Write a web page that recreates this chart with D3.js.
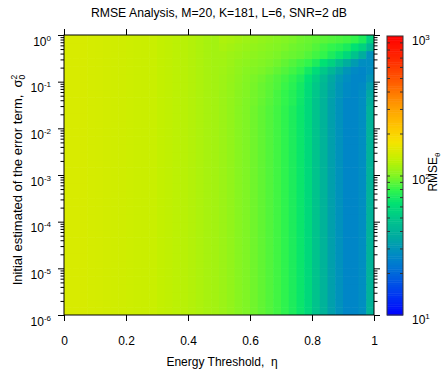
<!doctype html>
<html lang="en">
<head>
<meta charset="UTF-8">
<title>RMSE Analysis</title>
<script src="https://d3js.org/d3.v7.min.js"></script>
<style>
  body { margin: 0; background: #fff; }
  text { font-family: "Liberation Sans", Arial, Helvetica, sans-serif; white-space: pre; }
</style>
</head>
<body>
<div id="chart"></div>
<script>
// grid: 40 eta cells on [0,1], 36 sigma^2 cells on [1e-6,1] (6 per decade)
const etaEdges = d3.range(0, 41).map(i => i / 40);
const sigmaExpEdges = d3.range(0, 37).map(i => -6 + i / 6);

// RMSE of the lower rows (sigma^2 below ~1e-2), one value per eta column
const rmseBase = [148,148,147,146,145,143,142,141,139,138,137,136,132,130,128,126,123,120,117,115,
                  111,107,102,99,95,91,87,83,78,72,66,58,48,40,33,29,26,26,28,40];
// top rows, from sigma^2 = 1 downward, eta columns 20..39 (left columns = base)
const topStartCol = 20;
const rmseTopRows = [
  [120,118,115,112,110,107,105,102,100,98,95,93,91,89,87,85,83,79,72,55],
  [118,115,112,110,107,105,102,100,98,95,93,91,87,83,79,76,71,63,55,42],
  [115,112,110,107,105,102,100,98,95,93,91,87,83,79,72,66,58,48,38,29],
  [114,111,107,105,102,100,98,95,91,87,83,79,72,63,55,46,38,32,28,28],
  [113,110,106,102,100,98,95,91,87,83,78,69,60,50,42,35,30,27,26,28],
  [112,109,105,101,98,95,91,87,83,78,72,63,53,44,36,31,28,26,26,30],
  [112,108,104,100,97,93,90,86,81,76,69,60,50,42,35,30,27,26,27,33],
  [111,108,103,100,96,93,89,84,79,74,68,59,49,41,34,30,27,26,28,36],
  [111,107,103,99,96,92,88,84,79,74,67,58,48,40,33,29,26,26,28,38]
];

const xTicks = [0, 0.2, 0.4, 0.6, 0.8, 1];
const yTickExps = [0, -1, -2, -3, -4, -5, -6];
const cbTickExps = [1, 2, 3];

// colormap stops (fraction of colorbar, colour)
const cmapStops = [0, 0.08, 0.16, 0.22, 0.28, 0.34, 0.40, 0.45, 0.50, 0.56, 0.62, 0.68, 0.75, 0.84, 0.92, 1];
const cmapColors = ["#0000ff","#003cf0","#006ed7","#008cc3","#00aaa0","#00c38c","#00e173","#32f54b",
                    "#82f523","#c3f000","#f5e400","#ffc300","#ff9b00","#ff5a00","#ff2800","#ff0000"];

const W = 441, H = 378;
const pL = 64, pR = 374, pT = 35, pB = 315;

const svg = d3.select("#chart").append("svg")
  .attr("width", W).attr("height", H)
  .style("background", "#fff");

const x = d3.scaleLinear().domain([0, 1]).range([pL, pR]);
const y = d3.scaleLog().domain([1e-6, 1]).range([pB, pT]);
const frac = d3.scaleLog().domain([10, 1000]).range([0, 1]).clamp(true);
const cmap = d3.scaleLinear().domain(cmapStops).range(cmapColors).interpolate(d3.interpolateRgb);
const color = v => cmap(frac(v));

// scale a label's font so that its length matches the one measured on the reference
function fitLength(sel, target) {
  const base = +sel.attr("font-size");
  const len = sel.node().getComputedTextLength();
  if (len > 0) sel.attr("font-size", (base * target / len).toFixed(2));
}

// build cells
const cells = [];
const nRows = sigmaExpEdges.length - 1;
for (let r = 0; r < nRows; r++) {
  const t = nRows - 1 - r;
  for (let c = 0; c < etaEdges.length - 1; c++) {
    let v = rmseBase[c];
    if (t < rmseTopRows.length && c >= topStartCol) v = rmseTopRows[t][c - topStartCol];
    cells.push({ r, c, v });
  }
}

svg.append("clipPath").attr("id", "plotClip")
  .append("rect").attr("x", pL).attr("y", pT).attr("width", pR - pL).attr("height", pB - pT);

svg.append("g").attr("clip-path", "url(#plotClip)")
  .selectAll("rect").data(cells).enter().append("rect")
    .attr("x", d => x(etaEdges[d.c]))
    .attr("width", d => x(etaEdges[d.c + 1]) - x(etaEdges[d.c]) + 0.6)
    .attr("y", d => y(Math.pow(10, sigmaExpEdges[d.r + 1])))
    .attr("height", d => y(Math.pow(10, sigmaExpEdges[d.r])) - y(Math.pow(10, sigmaExpEdges[d.r + 1])) + 0.6)
    .attr("fill", d => color(d.v));

// minor log ticks
const minorY = [];
for (let e = -6; e < 0; e++) for (let m = 2; m <= 9; m++) minorY.push(m * Math.pow(10, e));
const majorY = yTickExps.map(e => Math.pow(10, e));

function styleAxis(g) {
  g.select(".domain").remove();
  g.selectAll(".tick line").attr("stroke", "#000");
  g.selectAll("text").attr("font-size", 12).attr("fill", "#000")
    .style("font-family", "'Liberation Sans', Arial, sans-serif");
}

// bottom / top
svg.append("g").attr("transform", `translate(0,${pB})`)
  .call(d3.axisBottom(x).tickValues(xTicks).tickSize(6).tickSizeOuter(0).tickPadding(15)
    .tickFormat(d => String(d)))
  .call(styleAxis);
svg.append("g").attr("transform", `translate(0,${pT})`)
  .call(d3.axisTop(x).tickValues(xTicks).tickSize(6).tickSizeOuter(0).tickFormat(""))
  .call(styleAxis);

// left / right major + minor
const leftAx = svg.append("g").attr("transform", `translate(${pL},0)`)
  .call(d3.axisLeft(y).tickValues(majorY).tickSize(6).tickSizeOuter(0).tickPadding(7))
  .call(styleAxis);
leftAx.selectAll(".tick text").each(function(d) {
  const t = d3.select(this).text(null).attr("dy", 10);
  t.append("tspan").text("10");
  t.append("tspan").attr("dy", -5).attr("font-size", 8).text(String(Math.round(Math.log10(d))));
});
svg.append("g").attr("transform", `translate(${pL},0)`)
  .call(d3.axisLeft(y).tickValues(minorY).tickSize(3.5).tickSizeOuter(0).tickFormat(""))
  .call(styleAxis);
svg.append("g").attr("transform", `translate(${pR},0)`)
  .call(d3.axisRight(y).tickValues(majorY).tickSize(6).tickSizeOuter(0).tickFormat(""))
  .call(styleAxis);
svg.append("g").attr("transform", `translate(${pR},0)`)
  .call(d3.axisRight(y).tickValues(minorY).tickSize(3.5).tickSizeOuter(0).tickFormat(""))
  .call(styleAxis);

// plot frame
svg.append("rect").attr("x", pL).attr("y", pT).attr("width", pR - pL).attr("height", pB - pT)
  .attr("fill", "none").attr("stroke", "#000").attr("stroke-width", 1);

// title
const title = svg.append("text").attr("x", 219).attr("y", 17)
  .attr("text-anchor", "middle").attr("font-size", 12)
  .text("RMSE Analysis, M=20, K=181, L=6, SNR=2 dB");
fitLength(title, 256);

// x label
const xl = svg.append("text").attr("x", 222).attr("y", 366)
  .attr("text-anchor", "middle").attr("font-size", 12)
  .text("Energy Threshold,  \u03b7");

// y label
const yl = svg.append("text").attr("transform", "translate(22,180) rotate(-90)")
  .attr("text-anchor", "middle").attr("font-size", 13);
yl.append("tspan").text("Initial estimated of the error term,  \u03c3");
yl.append("tspan").attr("dy", -5.5).attr("font-size", 8.5).text("2");
yl.append("tspan").attr("dx", -4.8).attr("dy", 8.5).attr("font-size", 8.5).text("0");

// colorbar
const cbL = 387, cbR = 403, cbT = 36, cbB = 315;
const cbY = d3.scaleLog().domain([10, 1000]).range([cbB, cbT]);
const nSteps = 128;
const cbSteps = d3.range(nSteps);
svg.append("g").selectAll("rect").data(cbSteps).enter().append("rect")
  .attr("x", cbL).attr("width", cbR - cbL)
  .attr("y", i => cbT + (cbB - cbT) * (nSteps - 1 - i) / nSteps)
  .attr("height", (cbB - cbT) / nSteps + 0.5)
  .attr("fill", i => cmap((i + 0.5) / nSteps));

const cbMinor = [];
for (let e = 1; e < 3; e++) for (let m = 2; m <= 9; m++) cbMinor.push(m * Math.pow(10, e));
function cbTicks(g) {
  g.select(".domain").remove();
  g.selectAll(".tick line").attr("stroke", "#333").attr("stroke-width", 1);
}
svg.append("g").attr("transform", `translate(${cbL},0)`)
  .call(d3.axisRight(cbY).tickValues(cbMinor.concat([100])).tickSize(3).tickFormat(""))
  .call(cbTicks);
svg.append("g").attr("transform", `translate(${cbR},0)`)
  .call(d3.axisLeft(cbY).tickValues(cbMinor.concat([100])).tickSize(3).tickFormat(""))
  .call(cbTicks);
svg.append("rect").attr("x", cbL).attr("y", cbT).attr("width", cbR - cbL).attr("height", cbB - cbT)
  .attr("fill", "none").attr("stroke", "#333").attr("stroke-width", 1);

const cbLab = svg.append("g").attr("transform", `translate(${cbR},0)`)
  .call(d3.axisRight(cbY).tickValues(cbTickExps.map(e => Math.pow(10, e))).tickSize(0).tickPadding(9))
  .call(styleAxis);
cbLab.selectAll(".tick text").each(function(d) {
  const t = d3.select(this).text(null).attr("dy", 8);
  t.append("tspan").text("10");
  t.append("tspan").attr("dy", -5).attr("font-size", 8).text(String(Math.round(Math.log10(d))));
});

// colorbar label
const cl = svg.append("text").attr("transform", "translate(437,172) rotate(-90)")
  .attr("text-anchor", "middle").attr("font-size", 12);
cl.append("tspan").text("RMSE");
cl.append("tspan").attr("dy", 3).attr("font-size", 8).text("\u03b8");
</script>
</body>
</html>
